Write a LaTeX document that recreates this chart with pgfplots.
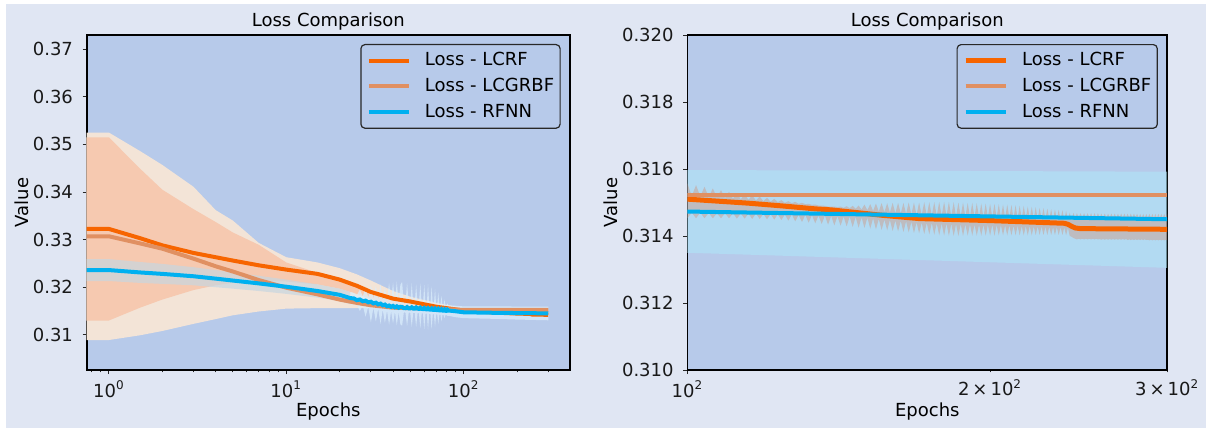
\documentclass[border=0pt]{standalone}
\usepackage{fontspec}
\setmainfont{DejaVu Sans}
\usepackage{pgfplots}
\usepackage{pgfplotstable}
\pgfplotsset{compat=1.18}
\usepgfplotslibrary{fillbetween}

\definecolor{figbg}{RGB}{224,230,243}
\definecolor{axbg}{RGB}{183,202,234}
\definecolor{crf}{RGB}{247,101,0}
\definecolor{crfband}{RGB}{208,143,117}
\definecolor{grb}{RGB}{224,144,98}
\definecolor{rfnn}{RGB}{0,176,240}
\definecolor{peachlight}{RGB}{243,228,215}
\definecolor{peachdeep}{RGB}{246,201,176}
\definecolor{rfnnfillA}{RGB}{200,214,224}
\definecolor{rfnnfillB}{RGB}{218,238,252}
\definecolor{rfnnfillR}{RGB}{175,229,248}
\definecolor{legedge}{RGB}{40,40,40}

\newcommand{\figfont}{\fontsize{9}{10.8}\selectfont}

% mean curves and spread bands, full run
\pgfplotstableread{
e crf aup alo grb bup blo ovup ovlo
0.5 0.33225 0.3525 0.3130 0.3307 0.3515 0.3089 0.3515 0.3130
1 0.33225 0.3525 0.3130 0.3307 0.3515 0.3089 0.3515 0.3130
1.5 0.3303 0.3486 0.3157 0.3292 0.3449 0.3099 0.3449 0.3157
2 0.3288 0.3457 0.3174 0.3281 0.3405 0.3108 0.3405 0.3174
3 0.3272 0.3411 0.3194 0.3260 0.3364 0.3123 0.3364 0.3194
4 0.3263 0.3362 0.3204 0.3244 0.3337 0.3133 0.3337 0.3204
5 0.3256 0.3340 0.3209 0.3233 0.3315 0.3141 0.3315 0.3209
7 0.3246 0.3293 0.3214 0.3215 0.3289 0.3149 0.3289 0.3214
10 0.3237 0.3263 0.3212 0.3199 0.3252 0.3155 0.3252 0.3212
15 0.3228 0.3252 0.3206 0.3185 0.3230 0.3156 0.3230 0.3206
20 0.3216 0.3240 0.3197 0.3174 0.3214 0.3156 0.3214 0.3197
25 0.3203 0.3227 0.3186 0.3167 0.3203 0.3156 0.3203 0.3186
30 0.3190 0.3214 0.3175 0.3162 0.3192 0.3156 0.3192 0.3175
40 0.3176 0.3192 0.3163 0.3157 0.3179 0.3156 0.3179 0.3163
50 0.3170 0.3180 0.3158 0.3156 0.3170 0.3155 0.3170 0.3158
70 0.3159 0.3167 0.3152 0.3155 0.3160 0.3154 0.3160 0.3154
100 0.3151 0.3156 0.3145 0.31522 0.31525 0.31519 0.31525 0.31519
150 0.31466 0.3150 0.3144 0.31522 0.31525 0.31519 0.31525 0.31519
200 0.31446 0.3150 0.3141 0.31522 0.31525 0.31519 0.31525 0.31519
237 0.31438 0.3148 0.3140 0.31522 0.31525 0.31519 0.31525 0.31519
244 0.31424 0.3147 0.3139 0.31522 0.31525 0.31519 0.31525 0.31519
300 0.31420 0.3147 0.31387 0.31522 0.31525 0.31519 0.31525 0.31519
}\lossmain

% RFNN mean and band, full run
\pgfplotstableread{
e rf rup rlo
0.5 0.3236 0.3259 0.3213
1 0.3236 0.3259 0.3213
1.5 0.3231 0.3253 0.3209
2 0.3228 0.3249 0.3207
3 0.3223 0.3242 0.3204
4 0.3218 0.3236 0.3200
5 0.3214 0.3231 0.3197
7 0.3208 0.3224 0.3192
10 0.3201 0.3216 0.3186
15 0.3192 0.3206 0.3178
20 0.3184 0.3197 0.3171
23 0.3177 0.3190 0.3164
24 0.31765 0.3188 0.3163
25 0.31728 0.31828 0.31638
26 0.31742 0.3195 0.3150
27 0.31705 0.31805 0.31615
28 0.31718 0.3199 0.3138
29 0.31682 0.31782 0.31592
30 0.31695 0.3204 0.3126
31 0.31660 0.31760 0.31570
32 0.31675 0.3203 0.3128
33 0.31640 0.31740 0.31550
34 0.31655 0.3206 0.3123
35 0.31620 0.31720 0.31530
36 0.31635 0.3200 0.3125
37 0.31600 0.31700 0.31510
38 0.31615 0.3209 0.3121
39 0.31586 0.31686 0.31496
40 0.31606 0.3210 0.3124
41 0.31577 0.31677 0.31487
42 0.31598 0.3212 0.3120
43 0.31569 0.31669 0.31479
44 0.31589 0.3205 0.3122
45 0.31585 0.3211 0.3119
46 0.31559 0.31659 0.31469
47 0.31558 0.31658 0.31468
48 0.31582 0.3209 0.3118
49 0.31556 0.31656 0.31466
50 0.31554 0.31654 0.31464
51 0.31578 0.3208 0.3117
52 0.31552 0.31652 0.31462
53 0.31551 0.31651 0.31461
54 0.31575 0.3206 0.3116
55 0.31548 0.31648 0.31458
56 0.31546 0.31646 0.31456
57 0.31570 0.3208 0.3114
58 0.31543 0.31643 0.31453
59 0.31541 0.31641 0.31451
60 0.31564 0.3205 0.3112
61 0.31537 0.31637 0.31447
62 0.31535 0.31635 0.31445
63 0.31559 0.3207 0.3111
64 0.31532 0.31632 0.31442
65 0.31530 0.31630 0.31440
66 0.31553 0.3202 0.3112
67 0.31526 0.31626 0.31436
68 0.31525 0.31625 0.31435
69 0.31548 0.3196 0.3117
70 0.31521 0.31621 0.31431
71 0.31519 0.31619 0.31429
72 0.31542 0.3189 0.3123
73 0.31515 0.31615 0.31425
74 0.31514 0.31614 0.31424
75 0.31537 0.3182 0.3128
76 0.31510 0.31610 0.31420
77 0.31508 0.31608 0.31418
78 0.31532 0.3174 0.3135
79 0.31505 0.31605 0.31415
80 0.31503 0.31603 0.31413
81 0.31527 0.3166 0.3140
82 0.31510 0.3162 0.3140
90 0.31495 0.3161 0.3137
100 0.31473 0.31597 0.31350
150 0.31462 0.31596 0.31335
200 0.31457 0.31594 0.31320
300 0.31450 0.31592 0.31305
}\rfnnleft

% LCRF spread, epochs 100-300
\pgfplotstableread{
e up lo
100 0.31557 0.31453
101 0.31519 0.31470
102 0.31552 0.31453
103 0.31518 0.31470
104 0.31547 0.31453
105 0.31516 0.31469
106 0.31542 0.31453
107 0.31514 0.31468
108 0.31537 0.31453
109 0.31513 0.31468
110 0.31532 0.31453
111 0.31511 0.31468
112 0.31528 0.31452
113 0.31509 0.31467
114 0.31525 0.31452
115 0.31508 0.31467
116 0.31521 0.31451
117 0.31506 0.31467
118 0.31518 0.31451
119 0.31504 0.31466
120 0.31514 0.31450
121 0.31502 0.31465
122 0.31511 0.31449
123 0.31501 0.31465
124 0.31507 0.31448
125 0.31499 0.31464
126 0.31504 0.31446
127 0.31498 0.31464
128 0.31502 0.31444
129 0.31496 0.31463
130 0.31499 0.31442
131 0.31495 0.31463
132 0.31496 0.31440
133 0.31493 0.31462
134 0.31494 0.31438
135 0.31491 0.31461
136 0.31491 0.31436
137 0.31490 0.31461
138 0.31488 0.31434
139 0.31488 0.31460
140 0.31488 0.31432
141 0.31486 0.31459
142 0.31488 0.31431
143 0.31484 0.31458
144 0.31489 0.31429
145 0.31483 0.31458
146 0.31490 0.31427
147 0.31481 0.31457
148 0.31491 0.31425
149 0.31479 0.31456
150 0.31494 0.31424
151 0.31477 0.31455
152 0.31495 0.31422
153 0.31475 0.31453
154 0.31497 0.31420
155 0.31473 0.31451
156 0.31498 0.31418
157 0.31471 0.31449
158 0.31498 0.31417
159 0.31470 0.31448
160 0.31499 0.31415
161 0.31468 0.31446
162 0.31499 0.31414
163 0.31467 0.31445
164 0.31499 0.31412
165 0.31466 0.31444
166 0.31500 0.31411
167 0.31464 0.31442
168 0.31500 0.31409
169 0.31463 0.31441
170 0.31500 0.31408
171 0.31462 0.31440
172 0.31501 0.31406
173 0.31461 0.31439
174 0.31501 0.31405
175 0.31461 0.31439
176 0.31501 0.31404
177 0.31460 0.31438
178 0.31502 0.31402
179 0.31460 0.31438
180 0.31502 0.31401
181 0.31460 0.31438
182 0.31502 0.31400
183 0.31459 0.31437
184 0.31501 0.31400
185 0.31458 0.31436
186 0.31500 0.31400
187 0.31458 0.31436
188 0.31500 0.31400
189 0.31457 0.31435
190 0.31499 0.31401
191 0.31457 0.31435
192 0.31499 0.31401
193 0.31457 0.31435
194 0.31498 0.31401
195 0.31456 0.31434
196 0.31497 0.31401
197 0.31456 0.31434
198 0.31497 0.31401
199 0.31456 0.31434
200 0.31496 0.31401
201 0.31456 0.31434
202 0.31496 0.31401
203 0.31455 0.31433
204 0.31495 0.31402
205 0.31455 0.31433
206 0.31494 0.31402
207 0.31454 0.31432
208 0.31494 0.31402
209 0.31454 0.31432
210 0.31493 0.31402
211 0.31453 0.31431
212 0.31492 0.31402
213 0.31453 0.31431
214 0.31491 0.31402
215 0.31452 0.31430
216 0.31490 0.31402
217 0.31452 0.31430
218 0.31488 0.31402
219 0.31452 0.31430
220 0.31487 0.31402
221 0.31451 0.31429
222 0.31486 0.31403
223 0.31451 0.31429
224 0.31484 0.31403
225 0.31451 0.31429
226 0.31483 0.31403
227 0.31450 0.31428
228 0.31482 0.31403
229 0.31450 0.31428
230 0.31480 0.31403
231 0.31449 0.31427
232 0.31479 0.31403
233 0.31449 0.31427
234 0.31478 0.31403
235 0.31449 0.31427
236 0.31477 0.31403
237 0.31448 0.31426
238 0.31475 0.31402
239 0.31447 0.31425
240 0.31470 0.31400
241 0.31444 0.31398
242 0.31469 0.31394
243 0.31456 0.31392
244 0.31468 0.31390
245 0.31455 0.31392
246 0.31468 0.31390
247 0.31455 0.31392
248 0.31468 0.31390
249 0.31455 0.31392
250 0.31468 0.31390
251 0.31455 0.31392
252 0.31468 0.31390
253 0.31455 0.31392
254 0.31468 0.31390
255 0.31455 0.31392
256 0.31468 0.31390
257 0.31455 0.31391
258 0.31467 0.31389
259 0.31455 0.31391
260 0.31467 0.31389
261 0.31455 0.31391
262 0.31467 0.31389
263 0.31455 0.31391
264 0.31467 0.31389
265 0.31455 0.31391
266 0.31467 0.31389
267 0.31455 0.31391
268 0.31467 0.31389
269 0.31455 0.31391
270 0.31467 0.31389
271 0.31455 0.31391
272 0.31467 0.31389
273 0.31455 0.31391
274 0.31467 0.31388
275 0.31455 0.31390
276 0.31467 0.31388
277 0.31455 0.31390
278 0.31467 0.31388
279 0.31455 0.31390
280 0.31467 0.31388
281 0.31454 0.31390
282 0.31466 0.31388
283 0.31454 0.31390
284 0.31466 0.31388
285 0.31454 0.31390
286 0.31466 0.31388
287 0.31454 0.31389
288 0.31466 0.31387
289 0.31454 0.31389
290 0.31466 0.31387
291 0.31454 0.31389
292 0.31466 0.31387
293 0.31454 0.31389
294 0.31466 0.31387
295 0.31454 0.31389
296 0.31466 0.31387
297 0.31454 0.31389
298 0.31466 0.31387
299 0.31454 0.31389
300 0.31466 0.31387
}\crfband

% LCRF mean, epochs 100-300
\pgfplotstableread{
e m
100 0.31510
115 0.31498
124 0.31490
134 0.31481
139 0.31478
156 0.31462
170 0.31452
200 0.31446
237 0.31438
239 0.31435
241 0.31429
243 0.31424
246 0.31422
300 0.31420
}\crfright

% RFNN mean and band, epochs 100-300
\pgfplotstableread{
e rf rup rlo
100 0.31473 0.31597 0.31350
300 0.31450 0.31592 0.31305
}\rfnnright

\pgfplotsset{
  losspanel/.style={
    scale only axis, height=167.5pt, anchor=south west,
    no markers,
    axis background/.style={fill=axbg},
    axis line style={black, line width=0.9pt},
    tick align=outside, tick pos=left,
    major tick length=2pt, minor tick length=1.2pt,
    every tick/.append style={black!85, line width=0.5pt},
    ticklabel style={font=\figfont, text=black!90},
    xticklabel style={anchor=base, yshift=-11.7pt},
    yticklabel style={anchor=east, inner sep=0pt, xshift=-4.7pt},
    title style={font=\figfont, at={(axis description cs:0.5,1)}, anchor=base, yshift=-1.7pt},
    xlabel style={font=\figfont, at={(axis description cs:0.5,0)}, anchor=base, yshift=-23.3pt},
    ylabel style={font=\figfont, anchor=base},
    legend cell align=left,
    legend image code/.code={\draw[#1] (0pt,0pt) -- (20pt,0pt);},
    legend style={at={(axis description cs:1,1)}, anchor=north east,
      xshift=-4.65pt, yshift=-4.5pt, draw=legedge, line width=0.6pt,
      rounded corners=2pt, fill=axbg, font=\figfont,
      inner xsep=3pt, inner ysep=3.5pt, row sep=3.9pt, column sep=7pt,
      nodes={inner sep=0pt, text height=7pt, text depth=2pt}},
    title={Loss Comparison}, xlabel={Epochs}, ylabel={Value},
  },
}

\begin{document}
\begin{tikzpicture}
\pgfplotsset{set layers}
% figure face, on the lowest layer so the axes stay on top of it
\begin{pgfonlayer}{axis background}
\fill[white] (0pt,0pt) rectangle (603pt,215pt);
\fill[figbg] (3pt,1pt) rectangle (603pt,213pt);
\end{pgfonlayer}

% full training run
\begin{axis}[xmode=log, losspanel, at={(43.35pt,30pt)}, width=241.65pt,
  xmin=0.75, xmax=398, ymin=0.3026, ymax=0.3730,
  xtick={1,10,100},
  xticklabels={10\textsuperscript{0},10\textsuperscript{1},10\textsuperscript{2}},
  minor xtick={0.8,0.9,2,3,4,5,6,7,8,9,20,30,40,50,60,70,80,90,200,300},
  ytick={0.31,0.32,0.33,0.34,0.35,0.36,0.37},
  yticklabels={0.31,0.32,0.33,0.34,0.35,0.36,0.37},
  ylabel style={at={(axis description cs:-0.120,0.5)}},
]
\addplot[name path=aU, draw=none, forget plot] table[x=e,y=aup]{\lossmain};
\addplot[name path=aL, draw=none, forget plot] table[x=e,y=alo]{\lossmain};
\addplot[name path=bU, draw=none, forget plot] table[x=e,y=bup]{\lossmain};
\addplot[name path=bL, draw=none, forget plot] table[x=e,y=blo]{\lossmain};
\addplot[name path=oU, draw=none, forget plot] table[x=e,y=ovup]{\lossmain};
\addplot[name path=oL, draw=none, forget plot] table[x=e,y=ovlo]{\lossmain};
\addplot[name path=rU, draw=none, forget plot] table[x=e,y=rup]{\rfnnleft};
\addplot[name path=rL, draw=none, forget plot] table[x=e,y=rlo]{\rfnnleft};
\addplot[fill=peachlight, draw=none, forget plot] fill between[of=aU and aL];
\addplot[fill=peachlight, draw=none, forget plot] fill between[of=bU and bL];
\addplot[fill=peachdeep, draw=none, forget plot] fill between[of=oU and oL];
\addplot[fill=rfnnfillA, fill opacity=0.7, draw=none, forget plot]
  fill between[of=rU and rL, soft clip={(axis cs:0.5,0.30) rectangle (axis cs:23,0.34)}];
\addplot[fill=rfnnfillB, fill opacity=0.75, draw=none, forget plot]
  fill between[of=rU and rL, soft clip={(axis cs:23,0.30) rectangle (axis cs:400,0.34)}];
\addplot[crf, line width=2pt] table[x=e,y=crf]{\lossmain};
\addlegendentry{Loss - LCRF}
\addplot[grb, line width=2pt] table[x=e,y=grb]{\lossmain};
\addlegendentry{Loss - LCGRBF}
\addplot[rfnn, line width=2pt] table[x=e,y=rf]{\rfnnleft};
\addlegendentry{Loss - RFNN}
\end{axis}

% epochs 100-300
\begin{axis}[xmode=log, losspanel, at={(343.7pt,30pt)}, width=239.9pt,
  xmin=100, xmax=300, ymin=0.310, ymax=0.320,
  xminorticks=false,
  xtick={100}, xticklabels={10\textsuperscript{2}},
  extra x ticks={200,300},
  extra x tick labels={2\,×\,10\textsuperscript{2},3\,×\,10\textsuperscript{2}},
  extra x tick style={major tick length=1.2pt},
  ytick={0.310,0.312,0.314,0.316,0.318,0.320},
  yticklabels={0.310,0.312,0.314,0.316,0.318,0.320},
  ylabel style={at={(axis description cs:-0.1459,0.5)}},
]
\addplot[name path=cU, draw=none, forget plot] table[x=e,y=rup]{\rfnnright};
\addplot[name path=cL, draw=none, forget plot] table[x=e,y=rlo]{\rfnnright};
\addplot[name path=gU, draw=none, forget plot] table[x=e,y=up]{\crfband};
\addplot[name path=gL, draw=none, forget plot] table[x=e,y=lo]{\crfband};
\addplot[fill=rfnnfillR, fill opacity=0.6, draw=none, forget plot] fill between[of=cU and cL];
\addplot[fill=crfband, fill opacity=0.4, draw=none, forget plot] fill between[of=gU and gL];
\addplot[crf, line width=2.5pt] table[x=e,y=m]{\crfright};
\addlegendentry{Loss - LCRF}
\addplot[grb, line width=2pt] coordinates {(100,0.31522) (300,0.31522)};
\addlegendentry{Loss - LCGRBF}
\addplot[rfnn, line width=2pt] table[x=e,y=rf]{\rfnnright};
\addlegendentry{Loss - RFNN}
\end{axis}

\pgfresetboundingbox
\path[use as bounding box] (0pt,0pt) rectangle (603pt,215pt);
\end{tikzpicture}
\end{document}
